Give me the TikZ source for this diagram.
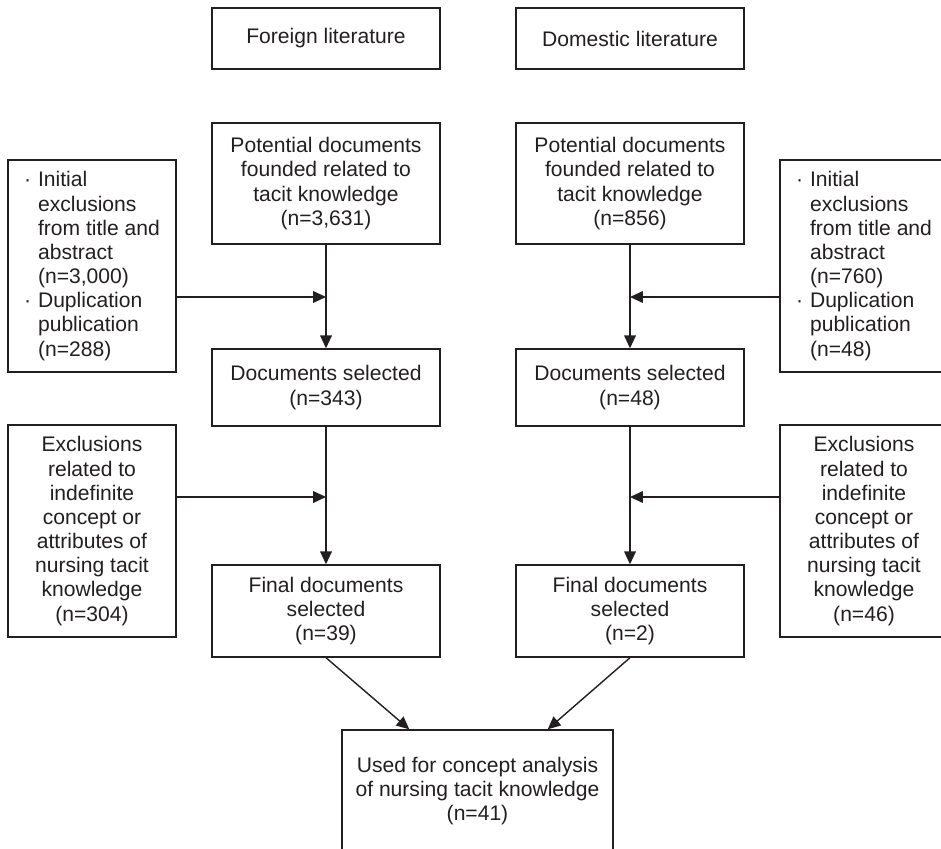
\documentclass[tikz,border=0pt]{standalone}
\usepackage{fontspec}
\setmainfont{Liberation Sans}
\usetikzlibrary{arrows.meta}
\definecolor{ink}{HTML}{231F20}
\newcommand{\bul}{\makebox[0.35cm][l]{·}}
\newcommand{\nobul}{\hspace*{0.35cm}}

\begin{document}
\begin{tikzpicture}[box/.style={draw,align=center,minimum width=5.7cm,inner sep=0pt,font=\fontsize{15}{17.2}\selectfont},
  side/.style={box,minimum width=4.2cm,minimum height=5.3cm},
  ink,line width=1pt,>={Triangle[length=3.2mm,width=2.9mm]}]
\useasboundingbox (0,0) rectangle (23.525,-21.225);
\clip (0,0) rectangle (23.525,-21.225);
% foreign side
\node[box,minimum height=1.525cm] (fl) at (8.15,-0.9625) {Foreign literature};
\node[box,minimum height=3.025cm] (pl) at (8.15,-4.5875) {Potential documents\\founded related to\\tacit knowledge\\(n=3,631)};
\node[box,minimum height=1.925cm] (sl) at (8.15,-9.6875) {Documents selected\\(n=343)};
\node[box,minimum height=2.3cm] (ffl) at (8.15,-15.275) {Final documents\\selected\\(n=39)};
\node[side,align=left] (xl1) at (2.3,-6.65) {\bul Initial\\\nobul exclusions\\\nobul from title and\\\nobul abstract\\\nobul (n=3,000)\\\bul Duplication\\\nobul publication\\\nobul (n=288)};
\node[side] (xl2) at (2.3,-13.275) {Exclusions\\related to\\indefinite\\concept or\\attributes of\\nursing tacit\\knowledge\\(n=304)};
% domestic side
\node[box,minimum height=1.525cm] (fr) at (15.75,-0.9625) {Domestic literature};
\node[box,minimum height=3.025cm] (pr) at (15.75,-4.5875) {Potential documents\\founded related to\\tacit knowledge\\(n=856)};
\node[box,minimum height=1.925cm] (sr) at (15.75,-9.6875) {Documents selected\\(n=48)};
\node[box,minimum height=2.3cm] (ffr) at (15.75,-15.275) {Final documents\\selected\\(n=2)};
\node[side,align=left] (xr1) at (21.6,-6.65) {\bul Initial\\\nobul exclusions\\\nobul from title and\\\nobul abstract\\\nobul (n=760)\\\bul Duplication\\\nobul publication\\\nobul (n=48)};
\node[side] (xr2) at (21.6,-13.275) {Exclusions\\related to\\indefinite\\concept or\\attributes of\\nursing tacit\\knowledge\\(n=46)};
% merged
\node[box,minimum width=6.775cm,minimum height=3.05cm] (used) at (11.9375,-19.775) {Used for concept analysis\\of nursing tacit knowledge\\(n=41)};
\coordinate (jl1) at (8.15,-7.425);
\coordinate (jl2) at (8.15,-12.425);
\coordinate (jr1) at (15.75,-7.425);
\coordinate (jr2) at (15.75,-12.425);
\draw[->] (pl) -- (sl);
\draw[->] (sl) -- (ffl);
\draw[->] (pr) -- (sr);
\draw[->] (sr) -- (ffr);
\draw[->] (xl1.east |- jl1) -- (jl1);
\draw[->] (xl2.east |- jl2) -- (jl2);
\draw[->] (xr1.west |- jr1) -- (jr1);
\draw[->] (xr2.west |- jr2) -- (jr2);
\draw[->] (ffl.south) -- ([xshift=1.7cm]used.north west);
\draw[->] (ffr.south) -- ([xshift=-1.65cm]used.north east);
\end{tikzpicture}
\end{document}
